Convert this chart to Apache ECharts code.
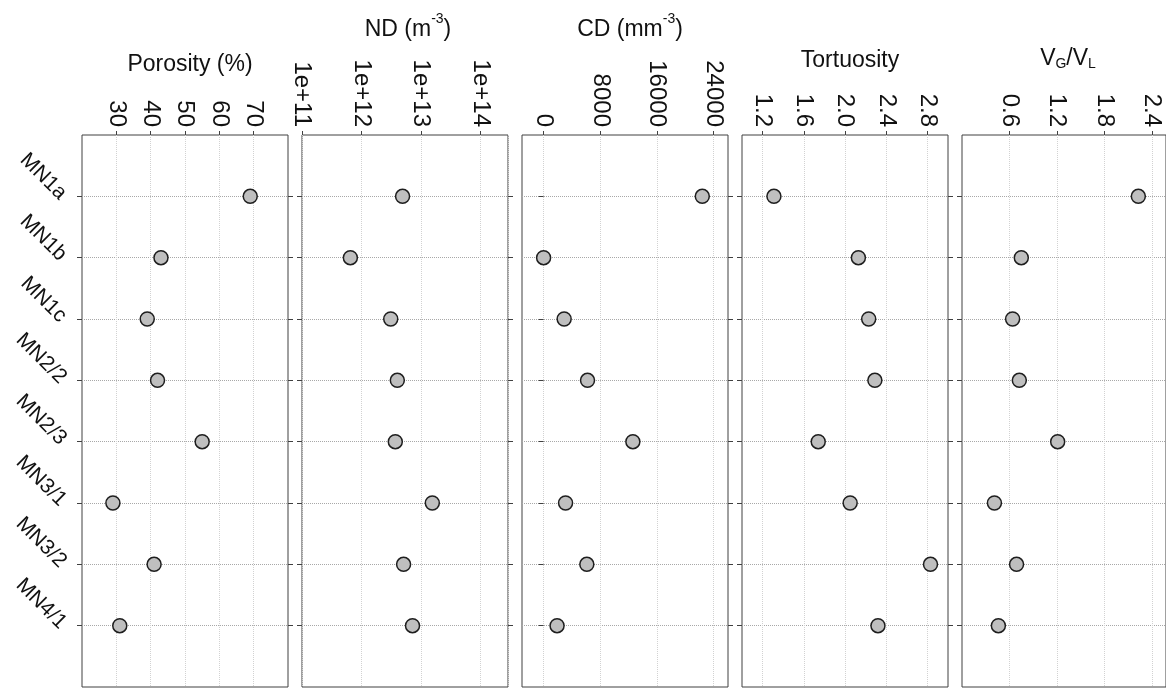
<!DOCTYPE html>
<html>
<head>
<meta charset="utf-8">
<script src="https://cdn.jsdelivr.net/npm/echarts@6/dist/echarts.min.js"></script>
<style>html,body{margin:0;padding:0;background:#fff}#c{width:1166px;height:689px}</style>
</head>
<body>
<div id="c"></div>
<script>
const categories = ['MN1a','MN1b','MN1c','MN2/2','MN2/3','MN3/1','MN3/2','MN4/1'];
const porosity = [69, 43, 39, 42, 55, 29, 41, 31];
const nd = [4.9e12, 6.5e11, 3.1e12, 4.0e12, 3.7e12, 1.55e13, 5.1e12, 7.2e12];
const cd = [22400, 0, 2900, 6200, 12600, 3100, 6100, 1900];
const tortuosity = [1.31, 2.13, 2.23, 2.29, 1.74, 2.05, 2.83, 2.32];
const vgvl = [2.23, 0.75, 0.64, 0.725, 1.21, 0.41, 0.69, 0.46];
const porosityTicks = [30, 40, 50, 60, 70];
const cdTicks = [0, 8000, 16000, 24000];
const tortTicks = [1.2, 1.6, 2.0, 2.4, 2.8];
const vgTicks = [0.6, 1.2, 1.8, 2.4];
const categoryTicks = [1, 2, 3, 4, 5, 6, 7, 8];

const FONT = 'Liberation Sans, Arial, sans-serif';
const FRAME = '#404040';
const lefts = [82, 302, 522, 742, 962];

const panels = [
  {data: porosity, type: 'value', min: 20, max: 80, ticks: porosityTicks, fmt: v => String(v)},
  {data: nd, type: 'log', min: 1e11, max: 2.9e14, ticks: null, fmt: v => '1e+' + Math.round(Math.log10(v))},
  {data: cd, type: 'value', min: -3050, max: 26030, ticks: cdTicks, fmt: v => String(v)},
  {data: tortuosity, type: 'value', min: 1.0, max: 3.0, ticks: tortTicks, fmt: v => v.toFixed(1)},
  {data: vgvl, type: 'value', min: 0, max: 2.58, ticks: vgTicks, fmt: v => v.toFixed(1)}
];

const grid = [], xAxis = [], yAxis = [], series = [];
panels.forEach((p, i) => {
  grid.push({left: lefts[i], top: 135, width: 206, height: 552, show: true,
    borderColor: FRAME, borderWidth: 1, backgroundColor: 'transparent'});
  const xa = {
    type: p.type, gridIndex: i, position: 'top', min: p.min, max: p.max,
    axisLine: {show: false},
    axisTick: {show: true, inside: false, length: 4, lineStyle: {color: FRAME}},
    axisLabel: {rotate: -90, margin: 8, fontSize: 24, fontFamily: FONT, color: '#111', formatter: p.fmt},
    splitLine: {show: true, lineStyle: {type: 'dotted', color: '#d2d2d2', width: 1}}
  };
  if (p.ticks) {
    xa.axisTick.customValues = p.ticks;
    xa.axisLabel.customValues = p.ticks;
  } else {
    xa.logBase = 10;
    xa.axisLabel.showMaxLabel = false;
    xa.axisLabel.showMinLabel = true;
  }
  xAxis.push(xa);
  yAxis.push({
    type: 'value', gridIndex: i, position: 'left', min: 0, max: 9, inverse: true,
    axisLine: {show: false},
    axisTick: {show: true, inside: false, length: 5, customValues: categoryTicks, lineStyle: {color: FRAME}},
    axisLabel: {show: i === 0, customValues: categoryTicks, rotate: -45, margin: 19, padding: [10, 0, 0, 0],
      fontSize: 21, fontFamily: FONT, color: '#111', formatter: v => categories[v - 1] || ''},
    splitLine: {show: true, lineStyle: {type: 'dotted', color: '#a8a8a8', width: 1}}
  });
  yAxis.push({
    type: 'value', gridIndex: i, position: 'right', min: 0, max: 9, inverse: true,
    axisLine: {show: false},
    axisTick: {show: true, inside: false, length: 5, customValues: categoryTicks, lineStyle: {color: FRAME}},
    axisLabel: {show: false},
    splitLine: {show: false}
  });
  series.push({
    type: 'scatter', xAxisIndex: i, yAxisIndex: i * 2,
    data: p.data.map((v, k) => [v, k + 1]),
    symbol: 'circle', symbolSize: 14,
    itemStyle: {color: '#bfbfbf', borderColor: '#1e1e1e', borderWidth: 1.5, opacity: 1},
    z: 5
  });
});

const base = {fontSize: 23, fontFamily: FONT, color: '#111'};
const sup = {fontSize: 14, fontFamily: FONT, color: '#111', lineHeight: 14, verticalAlign: 'top'};
const sub = {fontSize: 14, fontFamily: FONT, color: '#111', lineHeight: 14, verticalAlign: 'bottom'};
const title = [
  {text: 'Porosity (%)', left: 190, top: 53, textAlign: 'center', padding: 0, textStyle: {...base, fontWeight: 'normal'}},
  {text: '{b|ND (m}{s|-3}{b|)}', left: 408, top: 12, textAlign: 'center', padding: 0,
    textStyle: {fontWeight: 'normal', rich: {b: {...base, lineHeight: 29, verticalAlign: 'bottom'}, s: sup}}},
  {text: '{b|CD (mm}{s|-3}{b|)}', left: 630, top: 12, textAlign: 'center', padding: 0,
    textStyle: {fontWeight: 'normal', rich: {b: {...base, lineHeight: 29, verticalAlign: 'bottom'}, s: sup}}},
  {text: 'Tortuosity', left: 850, top: 49, textAlign: 'center', padding: 0, textStyle: {...base, fontWeight: 'normal'}},
  {text: '{b|V}{s|G}{b|/V}{s|L}', left: 1068, top: 47, textAlign: 'center', padding: 0,
    textStyle: {fontWeight: 'normal', rich: {b: {...base, lineHeight: 24, verticalAlign: 'top'}, s: sub}}}
];

const chart = echarts.init(document.getElementById('c'), null, {renderer: 'canvas'});
chart.setOption({backgroundColor: '#fff', animation: false, title, grid, xAxis, yAxis, series});
</script>
</body>
</html>
